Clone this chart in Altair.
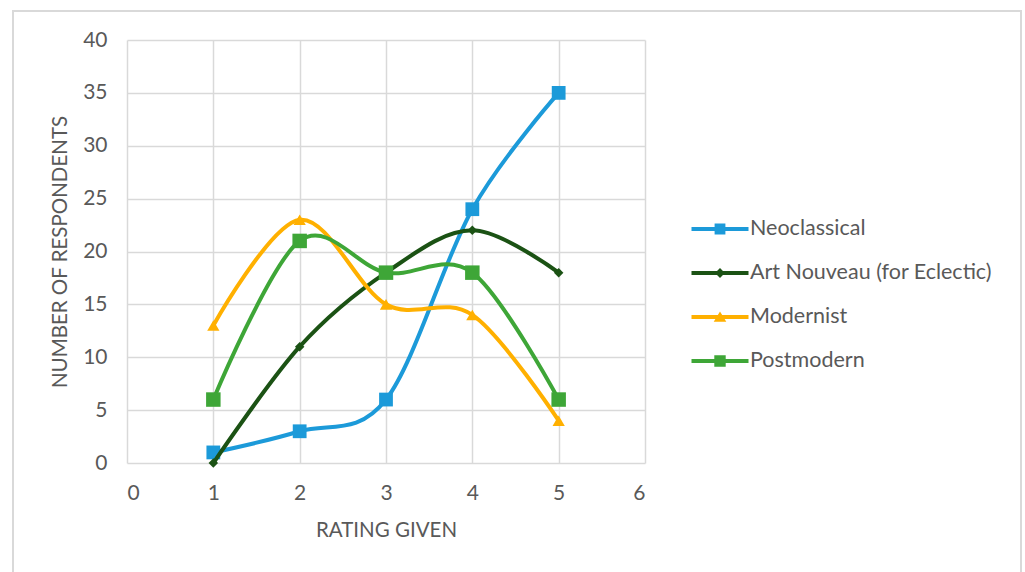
import altair as alt
import pandas as pd

ratings = [1, 2, 3, 4, 5]
series_names = ["Neoclassical", "Art Nouveau (for Eclectic)", "Modernist", "Postmodern"]
neoclassical = [1, 3, 6, 24, 35]
art_nouveau = [0, 11, 18, 22, 18]
modernist = [13, 23, 15, 14, 4]
postmodern = [6, 21, 18, 18, 6]
series_values = [neoclassical, art_nouveau, modernist, postmodern]
colors = ["#1C9AD9", "#1B5214", "#FFB000", "#3EA637"]
marker_shapes = ["square", "diamond", "triangle-up", "square"]
marker_sizes = [190, 90, 150, 210]

x_ticks = [0, 1, 2, 3, 4, 5, 6]
y_ticks = [0, 5, 10, 15, 20, 25, 30, 35, 40]

rows = []
for name, vals in zip(series_names, series_values):
    for r, v in zip(ratings, vals):
        rows.append({"series": name, "rating": r, "count": v})
df = pd.DataFrame(rows)

FONT = "Lato"
GRAY = "#595959"

x_enc = alt.X("rating:Q", scale=alt.Scale(domain=[0, 6], nice=False),
              axis=alt.Axis(values=x_ticks, title="RATING GIVEN", labelPadding=19,
                            titlePadding=17))
y_enc = alt.Y("count:Q", scale=alt.Scale(domain=[0, 40], nice=False),
              axis=alt.Axis(values=y_ticks, title="NUMBER OF RESPONDENTS", labelPadding=20,
                            titlePadding=12))

# legend symbol paths (line + marker) in unit coordinates
line_part = "M-1.9,-0.13H1.9V0.13H-1.9Z"
legend_paths = [
    line_part + "M-0.36,-0.36H0.36V0.36H-0.36Z",
    line_part + "M0,-0.33L0.33,0L0,0.33L-0.33,0Z",
    line_part + "M0,-0.36L0.42,0.32H-0.42Z",
    line_part + "M-0.38,-0.38H0.38V0.38H-0.38Z",
]

frame = alt.Chart(pd.DataFrame({"a": [0]})).mark_rect(
    filled=False, stroke="#D9D9D9", strokeWidth=2, clip=False
).encode(x=alt.value(-114), x2=alt.value(894), y=alt.value(-29), y2=alt.value(560))

layers = [frame]
for name, col, shp, sz in zip(series_names, colors, marker_shapes, marker_sizes):
    sub = df[df["series"] == name]
    base = alt.Chart(sub).encode(x=x_enc, y=y_enc)
    layers.append(base.mark_line(interpolate="cardinal", tension=0, strokeWidth=4, color=col))
    layers.append(base.mark_point(shape=shp, size=sz, filled=True, opacity=1, color=col))

legend_layer = alt.Chart(df).mark_point(filled=True, opacity=0, size=900).encode(
    x=x_enc, y=y_enc,
    color=alt.Color("series:N", scale=alt.Scale(domain=series_names, range=colors),
                    legend=alt.Legend(title=None, orient="none", legendX=578, legendY=174,
                                      symbolSize=900, symbolStrokeWidth=0, symbolOpacity=1,
                                      labelOffset=15, rowPadding=18, padding=0, labelLimit=400,
                                      labelFontSize=21.5, labelColor=GRAY, labelFont=FONT)),
    shape=alt.Shape("series:N", scale=alt.Scale(domain=series_names, range=legend_paths),
                    legend=None),
)
layers.append(legend_layer)

chart = alt.layer(*layers).properties(
    width=518, height=423,
    background="white",
    autosize=alt.AutoSizeParams(type="none"),
    padding={"left": 127, "top": 40, "right": 380, "bottom": 109},
).configure_view(stroke=None).configure_axis(
    domain=False, ticks=False, grid=True, gridColor="#D9D9D9", gridWidth=1.5,
    labelFont=FONT, labelFontSize=21, labelColor=GRAY,
    titleFont=FONT, titleFontSize=20.5, titleColor=GRAY, titleFontWeight="normal",
)

chart.save("out.html", embed_options={"renderer": "svg", "actions": False})
